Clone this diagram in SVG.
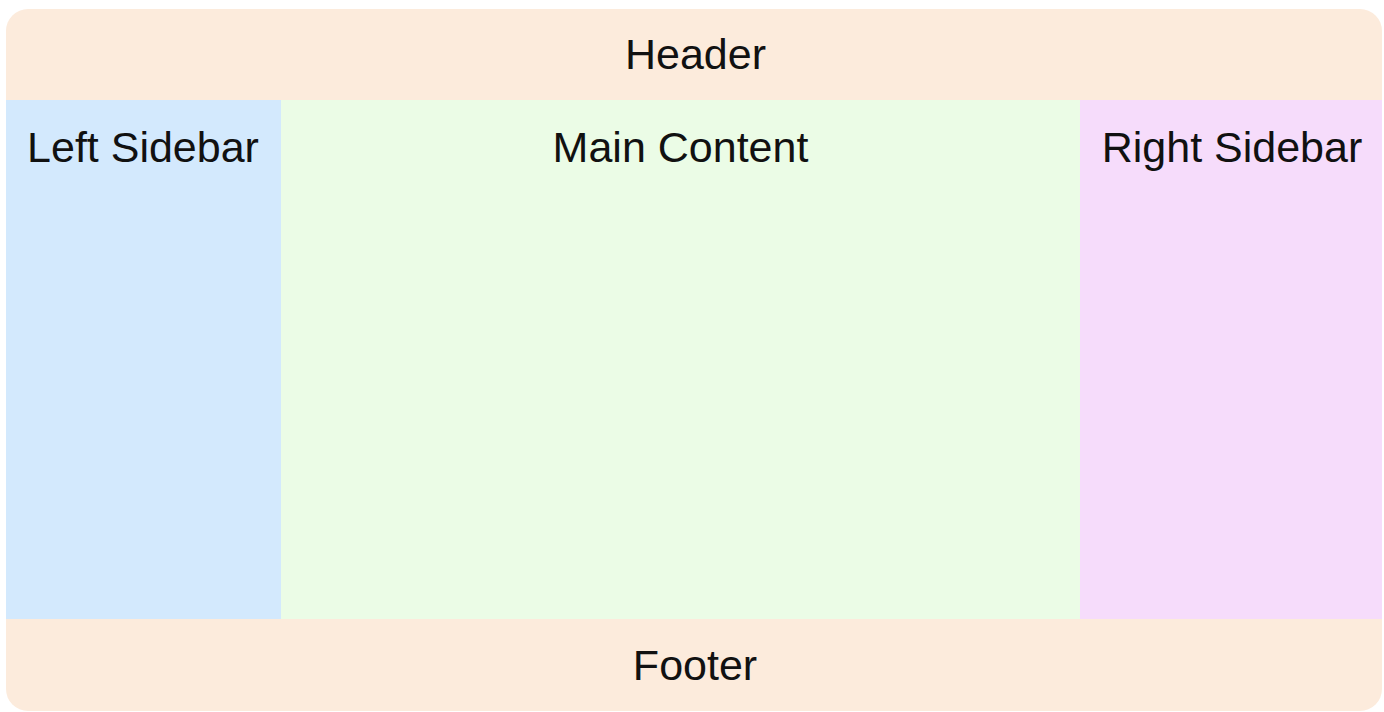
<svg xmlns="http://www.w3.org/2000/svg" width="1384" height="712" viewBox="0 0 1384 712">
<defs>
<style>
text{font-family:"Liberation Sans",Arial,sans-serif;font-size:43px;fill:#111;text-anchor:middle}
</style>
<clipPath id="outer"><rect x="6" y="9" width="1376" height="702" rx="22" ry="22"/></clipPath>
</defs>
<rect width="1384" height="712" fill="#ffffff"/>
<g clip-path="url(#outer)">
<g id="header"><rect x="0" y="0" width="1384" height="100" fill="#fcebdc"/><text x="695.5" y="68.5">Header</text></g>
<g id="left-sidebar"><rect x="0" y="100" width="281" height="519" fill="#d3e9fd"/><text x="143" y="162">Left Sidebar</text></g>
<g id="main-content"><rect x="281" y="100" width="799" height="519" fill="#ebfce6"/><text x="680.5" y="162">Main Content</text></g>
<g id="right-sidebar"><rect x="1080" y="100" width="304" height="519" fill="#f6dcfb"/><text x="1232" y="162">Right Sidebar</text></g>
<g id="footer"><rect x="0" y="619" width="1384" height="93" fill="#fcebdc"/><text x="695" y="680">Footer</text></g>
</g>
<g id="connectors"/>
</svg>
